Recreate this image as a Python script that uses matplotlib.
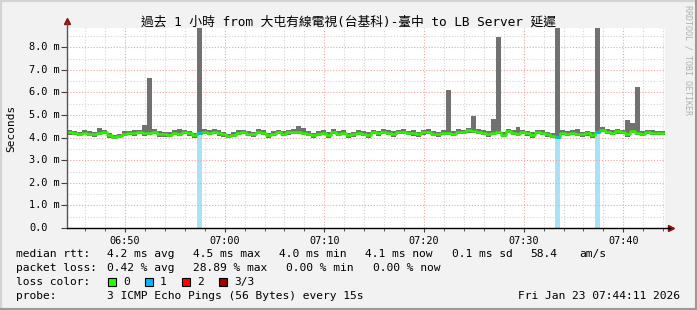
import numpy as np
import matplotlib
matplotlib.use('Agg')
import matplotlib.pyplot as plt
import matplotlib.transforms as mtransforms
from matplotlib.patches import Rectangle

# canvas size in pixels
W, H = 697, 310

# time axis (minutes of the day), 30 s slots starting 06:44:11
start_min = 6 * 60 + 44 + 11 / 60
step_min = 0.5

# median rtt per slot (ms)
median_ms = [
    4.24, 4.20, 4.17, 4.22, 4.18, 4.15, 4.21, 4.23, 4.12, 4.02,
    4.08, 4.16, 4.19, 4.22, 4.25, 4.20, 4.22, 4.26, 4.17, 4.15,
    4.13, 4.21, 4.17, 4.24, 4.19, 4.10, 4.22, 4.27, 4.21, 4.25,
    4.20, 4.15, 4.08, 4.13, 4.21, 4.23, 4.18, 4.16, 4.26, 4.21,
    4.12, 4.16, 4.24, 4.18, 4.23, 4.26, 4.27, 4.22, 4.17, 4.12,
    4.18, 4.21, 4.13, 4.23, 4.17, 4.22, 4.12, 4.15, 4.21, 4.17,
    4.13, 4.23, 4.19, 4.26, 4.21, 4.16, 4.23, 4.27, 4.20, 4.19,
    4.14, 4.23, 4.26, 4.18, 4.15, 4.22, 4.20, 4.17, 4.25, 4.26,
    4.32, 4.29, 4.25, 4.21, 4.16, 4.20, 4.26, 4.13, 4.29, 4.22,
    4.17, 4.23, 4.19, 4.13, 4.24, 4.21, 4.15, 4.08, 4.04, 4.20,
    4.16, 4.22, 4.18, 4.14, 4.19, 4.12, 4.26, 4.35, 4.26, 4.21,
    4.28, 4.25, 4.15, 4.31, 4.21, 4.17, 4.24, 4.20, 4.21, 4.20,
]

# fastest ping per slot (ms)
low_ms = [
    4.12, 4.10, 4.05, 4.14, 4.08, 4.02, 4.10, 4.15, 4.00, 3.95,
    3.97, 4.06, 4.10, 4.08, 4.15, 4.08, 4.12, 4.16, 4.04, 4.03,
    4.02, 4.12, 4.06, 4.14, 4.08, 3.98, 4.12, 4.17, 4.10, 4.15,
    4.08, 4.02, 3.98, 4.02, 4.12, 4.14, 4.06, 4.03, 4.16, 4.10,
    4.00, 4.05, 4.15, 4.05, 4.13, 4.16, 4.18, 4.12, 4.05, 4.00,
    4.06, 4.12, 4.00, 4.14, 4.05, 4.12, 3.98, 4.04, 4.12, 4.06,
    3.98, 4.14, 4.08, 4.17, 4.11, 4.04, 4.14, 4.18, 4.10, 4.08,
    4.02, 4.12, 4.17, 4.06, 4.04, 4.12, 4.10, 4.05, 4.15, 4.17,
    4.22, 4.20, 4.14, 4.10, 4.04, 4.10, 4.16, 4.02, 4.20, 4.12,
    4.06, 4.14, 4.08, 4.00, 4.15, 4.10, 4.04, 3.98, 3.95, 4.10,
    4.05, 4.12, 4.06, 4.02, 4.08, 4.00, 4.16, 4.25, 4.16, 4.10,
    4.18, 4.15, 4.04, 4.21, 4.10, 4.06, 4.14, 4.10, 4.12, 4.12,
]

# slowest ping per slot (ms)
high_ms = [
    4.34, 4.30, 4.26, 4.32, 4.30, 4.25, 4.42, 4.32, 4.22, 4.12,
    4.18, 4.28, 4.30, 4.33, 4.35, 4.55, 6.65, 4.36, 4.28, 4.25,
    4.24, 4.32, 4.38, 4.34, 4.30, 4.20, 12.0, 4.40, 4.32, 4.36,
    4.32, 4.26, 4.18, 4.24, 4.32, 4.34, 4.30, 4.26, 4.38, 4.32,
    4.22, 4.28, 4.34, 4.28, 4.34, 4.40, 4.50, 4.42, 4.28, 4.22,
    4.30, 4.32, 4.24, 4.36, 4.28, 4.32, 4.22, 4.26, 4.32, 4.28,
    4.26, 4.34, 4.30, 4.38, 4.32, 4.28, 4.34, 4.36, 4.30, 4.32,
    4.26, 4.34, 4.36, 4.30, 4.26, 4.32, 6.10, 4.28, 4.36, 4.34,
    4.42, 4.96, 4.36, 4.32, 4.28, 4.82, 8.45, 4.26, 4.40, 4.32,
    4.47, 4.34, 4.30, 4.26, 4.34, 4.32, 4.26, 4.20, 12.0, 4.32,
    4.28, 4.32, 4.38, 4.26, 4.30, 4.24, 12.0, 4.45, 4.36, 4.32,
    4.38, 4.34, 4.78, 4.65, 6.24, 4.30, 4.34, 4.32, 4.30, 4.28,
]

# slots where 1 of 3 pings was lost
loss_slots = [26, 98, 106]

x_tick_minutes = [410, 420, 430, 440, 450, 460]
x_tick_labels = ['06:50', '07:00', '07:10', '07:20', '07:30', '07:40']
y_ticks = [0, 1, 2, 3, 4, 5, 6, 7, 8]
y_tick_labels = ['0.0', '1.0 m', '2.0 m', '3.0 m', '4.0 m', '5.0 m', '6.0 m', '7.0 m', '8.0 m']

title = '過去 1 小時 from 大屯有線電視(台基科)-臺中 to LB Server 延遲'

rtt_row = [('median rtt:', 16), ('4.2 ms avg', 107), ('4.5 ms max', 193), ('4.0 ms min', 279),
           ('4.1 ms now', 365), ('0.1 ms sd', 452), ('58.4', 530), ('am/s', 579)]
loss_row = [('packet loss:', 16), ('0.42 % avg', 107), ('28.89 % max', 193),
            ('0.00 % min', 286), ('0.00 % now', 373)]
loss_colors = ['#22ff00', '#00b4ff', '#ff0000', '#a00000']
loss_names = ['0', '1', '2', '3/3']
probe_text = '3 ICMP Echo Pings (56 Bytes) every 15s'
stamp_text = 'Fri Jan 23 07:44:11 2026'

MONO = ['DejaVu Sans Mono', 'Noto Sans CJK TC']
plt.rcParams['font.family'] = MONO


def fx(px):
    return px / W


def fy(py):
    return 1 - py / H


fig = plt.figure(figsize=(W / 100, H / 100), dpi=100, facecolor='#f2f2f2')

# 3d-ish frame around the canvas
fig.patches.append(Rectangle((0, 0), 1, 1, transform=fig.transFigure, fill=False,
                             edgecolor='#d4d4d4', lw=3, zorder=0))
fig.add_artist(plt.Line2D([0, 1], [fy(309), fy(309)], color='#9a9a9a', lw=2.2))
fig.add_artist(plt.Line2D([fx(696), fx(696)], [0, 1], color='#9a9a9a', lw=2.2))

ax = fig.add_axes([fx(67), fy(228), 598 / W, 200 / H])
ax.set_facecolor('white')

t = start_min + step_min * np.arange(len(median_ms))
t_edge = np.append(t, t[-1] + step_min)
med = np.append(median_ms, median_ms[-1])
lo = np.append(low_ms, low_ms[-1])
hi = np.append(high_ms, high_ms[-1])

ax.set_xlim(start_min, start_min + 60)
ax.set_ylim(0, 8.85)

# loss background bars
for i in loss_slots:
    ax.axvspan(t[i], t[i] + step_min, color='#a8e2f7', lw=0, zorder=0.2)

# grid
ax.set_xticks(x_tick_minutes)
ax.set_xticks(np.arange(406, 466, 2), minor=True)
ax.set_yticks(y_ticks)
ax.set_yticks(np.arange(0.5, 8.6, 1.0), minor=True)
ax.set_axisbelow(True)
ax.grid(which='minor', color='#d6d6d6', ls=(0, (1, 1.6)), lw=0.8)
ax.grid(which='major', color='#f3a3a3', ls=(0, (1, 1.6)), lw=0.8)

# smoke and median
ax.fill_between(t_edge, lo, hi, step='post', color='#717171', lw=0, zorder=2)
ax.step(t_edge, med, where='post', color='#2af500', lw=1.8, zorder=3)
for i in loss_slots:
    ax.plot([t[i], t[i] + step_min], [median_ms[i], median_ms[i]],
            color='#00b4ff', lw=1.8, zorder=4, solid_capstyle='butt')

# axes lines with arrows
for s in ['top', 'right', 'left', 'bottom']:
    ax.spines[s].set_visible(False)
ax.plot([0, 0], [0, 1.03], transform=ax.transAxes, color='#555555', lw=1.0, clip_on=False, zorder=5)
ax.plot([0, 1.008], [0, 0], transform=ax.transAxes, color='black', lw=1.0, clip_on=False, zorder=5)
ax.plot([0], [1.035], transform=ax.transAxes, marker='^', color='#8b1010', ms=4, clip_on=False)
ax.plot([1.01], [0], transform=ax.transAxes, marker='>', color='#8b1010', ms=4, clip_on=False)

ax.tick_params(axis='y', which='major', length=4, color='#404040', labelleft=False)
ax.tick_params(axis='y', which='minor', length=0)
ax.tick_params(axis='x', which='major', length=3, color='#404040', pad=3, labelsize=7.3)
ax.tick_params(axis='x', which='minor', length=2, color='#404040')
ax.set_xticklabels(x_tick_labels)

# y tick labels left aligned like rrdtool
ylab_tf = mtransforms.blended_transform_factory(fig.transFigure, ax.transData)
for v, lab in zip(y_ticks, y_tick_labels):
    fig.text(fx(29), v, lab, transform=ylab_tf, ha='left', va='center', fontsize=7.4)

fig.text(fx(11), fy(128), 'Seconds', rotation=90, ha='center', va='center', fontsize=8)
fig.text(0.5, fy(22), title, ha='center', va='center', fontsize=9.2, family=MONO)
fig.text(fx(688), fy(60), 'RRDTOOL / TOBI OETIKER', rotation=270, ha='center', va='center',
         fontsize=6, color='#b0b0b0')

# legend / statistics block
for txt, x in rtt_row:
    fig.text(fx(x), fy(254), txt, ha='left', va='center', fontsize=8.1)
for txt, x in loss_row:
    fig.text(fx(x), fy(268), txt, ha='left', va='center', fontsize=8.1)
fig.text(fx(16), fy(282), 'loss color:', ha='left', va='center', fontsize=8.1)
box_x = [108, 145, 182, 219]
for bx, col, name in zip(box_x, loss_colors, loss_names):
    fig.patches.append(Rectangle((fx(bx), fy(286)), 8 / W, 8 / H, transform=fig.transFigure,
                                 facecolor=col, edgecolor='black', lw=0.8))
    fig.text(fx(bx + 15), fy(282), name, ha='left', va='center', fontsize=8.1)
fig.text(fx(16), fy(296), 'probe:', ha='left', va='center', fontsize=8.1)
fig.text(fx(107), fy(296), probe_text, ha='left', va='center', fontsize=8.1)
fig.text(fx(680), fy(296), stamp_text, ha='right', va='center', fontsize=8.1)

fig.savefig('out.png', dpi=100, facecolor=fig.get_facecolor())
